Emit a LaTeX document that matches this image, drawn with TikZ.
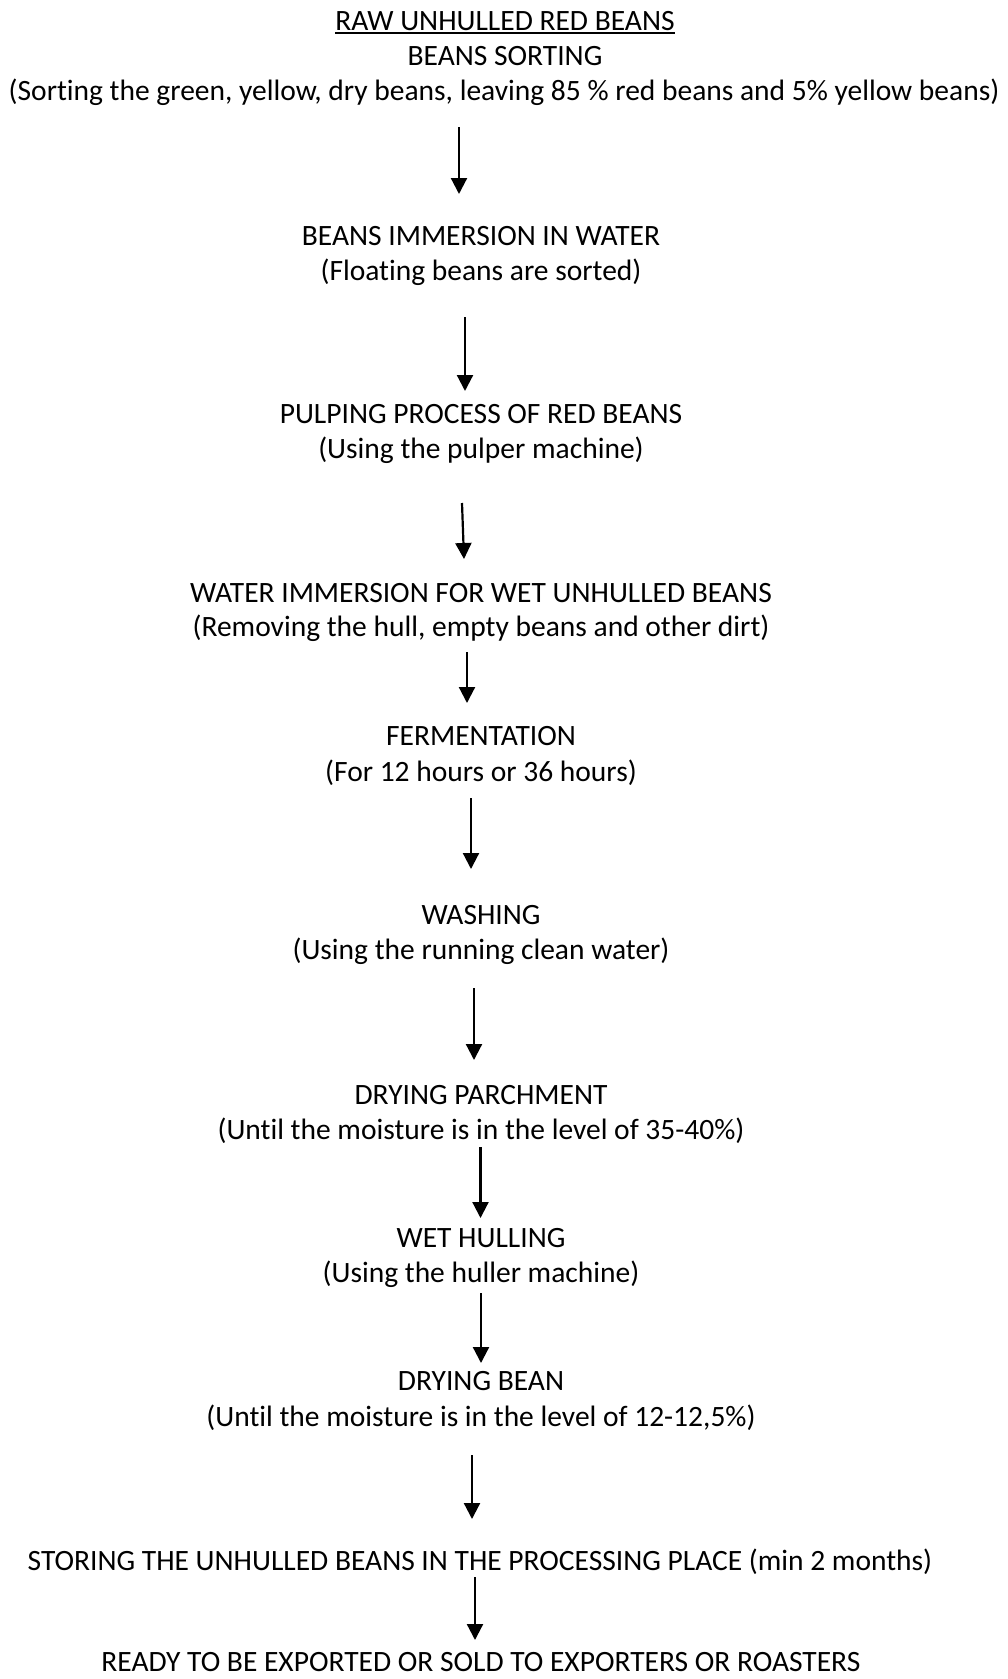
\documentclass[tikz,border=0pt]{standalone}
\usepackage{fontspec}
\setmainfont{Carlito}[Ligatures=NoCommon]
\usetikzlibrary{arrows.meta}
\begin{document}
\begin{tikzpicture}[x=1pt,y=-1pt,
  txt/.style={anchor=base,inner sep=0pt,font=\fontsize{29.5}{34}\selectfont},
  flow/.style={line width=2.2pt,-{Triangle[width=16pt,length=16pt]}}]
\useasboundingbox (0,0) rectangle (1007,1679);
\node[txt] (title) at (505,30) {RAW UNHULLED RED BEANS};
\draw[line width=1.5pt] ([yshift=-3pt]title.base west) -- ([yshift=-3pt]title.base east);
\node[txt] (s1) at (505,65) {BEANS SORTING};
\node[txt] (s1d) at (504,100) {(Sorting the green, yellow, dry beans, leaving 85 \% red beans and 5\% yellow beans)};
\node[txt] (s2) at (481,245) {BEANS IMMERSION IN WATER};
\node[txt] (s2d) at (481,280) {(Floating beans are sorted)};
\node[txt] (s3) at (481,423) {PULPING PROCESS OF RED BEANS};
\node[txt] (s3d) at (481,458) {(Using the pulper machine)};
\node[txt] (s4) at (481,602) {WATER IMMERSION FOR WET UNHULLED BEANS};
\node[txt] (s4d) at (481,636) {(Removing the hull, empty beans and other dirt)};
\node[txt] (s5) at (481,745) {FERMENTATION};
\node[txt] (s5d) at (481,781) {(For 12 hours or 36 hours)};
\node[txt] (s6) at (481,924) {WASHING};
\node[txt] (s6d) at (481,959) {(Using the running clean water)};
\node[txt] (s7) at (481,1104) {DRYING PARCHMENT};
\node[txt] (s7d) at (481,1139) {(Until the moisture is in the level of 35-40\%)};
\node[txt] (s8) at (481,1247) {WET HULLING};
\node[txt] (s8d) at (481,1282) {(Using the huller machine)};
\node[txt] (s9) at (481,1390) {DRYING BEAN};
\node[txt] (s9d) at (481,1426) {(Until the moisture is in the level of 12-12,5\%)};
\node[txt] (s10) at (480,1570) {STORING THE UNHULLED BEANS IN THE PROCESSING PLACE (min 2 months)};
\node[txt] (s11) at (481,1671) {READY TO BE EXPORTED OR SOLD TO EXPORTERS OR ROASTERS};
\coordinate (a1s) at (459,127);   \coordinate (a1e) at (459,194);
\coordinate (a2s) at (465,317);   \coordinate (a2e) at (465,391);
\coordinate (a3s) at (462,503);   \coordinate (a3e) at (464,559);
\coordinate (a4s) at (467,652);   \coordinate (a4e) at (467,703);
\coordinate (a5s) at (471,798);   \coordinate (a5e) at (471,869);
\coordinate (a6s) at (474,988);   \coordinate (a6e) at (474,1060);
\coordinate (a7s) at (480.5,1147);\coordinate (a7e) at (480.5,1218);
\coordinate (a8s) at (481,1293);  \coordinate (a8e) at (481,1363);
\coordinate (a9s) at (472,1455);  \coordinate (a9e) at (472,1519);
\coordinate (a10s) at (475,1577); \coordinate (a10e) at (475,1640);
\foreach \i in {1,...,10} \draw[flow] (a\i s) -- (a\i e);
\end{tikzpicture}
\end{document}
